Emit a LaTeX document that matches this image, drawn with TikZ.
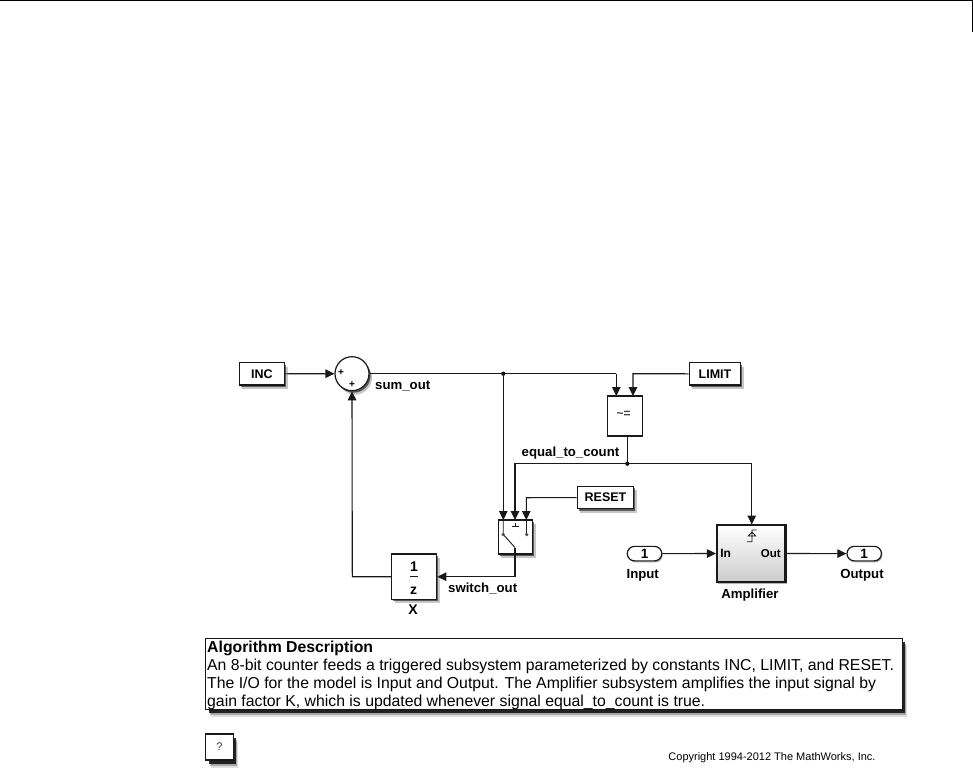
\documentclass[tikz,border=0pt]{standalone}
\usepackage{fontspec}
\setmainfont{Liberation Sans}
\usetikzlibrary{arrows.meta,shadows,shapes.misc}
\definecolor{wire}{gray}{0.1}
\tikzset{
  x=1pt,y=-1pt,
  every node/.style={font=\fontsize{13.2}{15}\selectfont\bfseries,text=black},
  softshadow/.style={drop shadow={shadow xshift=3pt,shadow yshift=-4pt,opacity=.22,fill=black},
    drop shadow={shadow xshift=1.6pt,shadow yshift=-2pt,opacity=.55,fill=black}},
  blockbox/.style={draw=black!90,line width=1.2pt,fill=white,inner sep=0pt,softshadow},
  plainbox/.style={draw=black!90,line width=1.2pt,fill=white,inner sep=0pt},
  wireline/.style={draw=wire,line width=1.1pt},
  sig/.style={wireline,-{Triangle[length=9pt,width=8.5pt]}},
  lbl/.style={inner sep=0pt,anchor=center},
  dotj/.style={circle,fill=black,inner sep=0pt,minimum size=4.2pt},
  gate/.style={font=\fontsize{12.5}{14}\selectfont\bfseries},
  pill/.style={rounded rectangle,plainbox,drop shadow={shadow xshift=1pt,shadow yshift=-1.5pt,opacity=.35,fill=black},minimum width=34.5pt,minimum height=14.5pt,font=\fontsize{13.5}{14}\selectfont\bfseries},
  notebox/.style={draw=black!90,line width=1.2pt,fill=white,inner sep=0pt,
    drop shadow={shadow xshift=5pt,shadow yshift=-8pt,opacity=.12,fill=black},
    drop shadow={shadow xshift=4pt,shadow yshift=-6pt,opacity=.25,fill=black},
    drop shadow={shadow xshift=3pt,shadow yshift=-3.5pt,opacity=.8,fill=black}},
}
\begin{document}
\begin{tikzpicture}
\useasboundingbox (0,0) rectangle (973,779);
\fill[white] (0,0) rectangle (973,779);
% page rule
\coordinate (ruleA) at (0,0.6);
\coordinate (ruleB) at (972.5,0.6);
\coordinate (ruleC) at (972.5,32);
\draw[black,line width=1pt] (ruleA) -- (ruleB) -- (ruleC);
% blocks
\node[blockbox,gate,minimum width=45.5pt,minimum height=22.5pt] (inc) at (262,373.8) {INC};
\node[circle,blockbox,minimum size=34pt] (sum) at (352,373.7) {};
\node[blockbox,gate,minimum width=51.5pt,minimum height=22.5pt] (limit) at (715,373.8) {LIMIT};
\node[plainbox,minimum width=35.5pt,minimum height=40pt] (cmp) at (625,416) {};
\node[font=\fontsize{12}{12}\selectfont\bfseries,text=black!75,lbl] (cmptxt) at (623.5,414) {\textasciitilde=};
\node[blockbox,gate,minimum width=56.5pt,minimum height=22.5pt] (reset) at (605.5,497.6) {RESET};
\node[blockbox,minimum width=34.5pt,minimum height=34pt] (sw) at (515.5,537) {};
\node[blockbox,minimum width=45pt,minimum height=45.5pt] (unit) at (414.2,576.7) {};
\node[plainbox,line width=2.2pt,minimum width=68.5pt,minimum height=57pt,top color=white,bottom color=black!20,drop shadow={shadow xshift=1pt,shadow yshift=-1.5pt,opacity=.3,fill=black}] (amp) at (751.3,553.5) {};
\node[pill] (inp) at (644.5,553.6) {1};
\node[pill] (outp) at (864.2,553.6) {1};
% sum signs
\node[lbl,font=\fontsize{10}{10}\selectfont\bfseries] (p1) at (341,372.7) {+};
\node[lbl,font=\fontsize{10}{10}\selectfont\bfseries] (p2) at (352,384.7) {+};
% unit delay content
\node[lbl,font=\fontsize{14}{15}\selectfont\bfseries] (one) at (414,566.7) {1};
\coordinate (barL) at (410,576.4);
\coordinate (barR) at (418,576.4);
\draw[wireline] (barL) -- (barR);
\node[lbl,font=\fontsize{14}{15}\selectfont\bfseries] (zed) at (413.5,590.7) {z};
% switch glyphs
\coordinate (swA) at (503.2,534.5);
\coordinate (swB) at (515,547.5);
\coordinate (swC) at (526.7,534.5);
\coordinate (swD) at (503.2,520);
\coordinate (swE) at (526.7,520);
\coordinate (swF) at (515,523);
\coordinate (swG) at (515,526.8);
\coordinate (swH) at (511.5,526.8);
\coordinate (swI) at (519,526.8);
\draw[wireline,line width=.9pt] (swD) -- (swA) -- (swB);
\draw[wireline,line width=.9pt] (swE) -- (swC);
\draw[wireline,line width=.9pt] (swF) -- (swG) (swH) -- (swI);
\node[circle,fill=black!70,inner sep=0pt,minimum size=3.6pt] (swdA) at (swA) {};
\node[circle,fill=black!70,inner sep=0pt,minimum size=3.6pt] (swdC) at (swC) {};
% amplifier content
\node[lbl,font=\fontsize{12}{13}\selectfont\bfseries] (ampin) at (725.7,553.5) {In};
\node[lbl,font=\fontsize{11.5}{13}\selectfont\bfseries] (ampout) at (770.7,553.5) {Out};
\coordinate (tgA) at (747,541.7);
\coordinate (tgB) at (752,541.7);
\coordinate (tgC) at (752,530);
\coordinate (tgD) at (756.7,530);
\coordinate (tgE) at (748.3,536);
\coordinate (tgF) at (752,532);
\coordinate (tgG) at (755.7,536);
\draw[wireline,line width=.8pt] (tgA) -- (tgB) -- (tgC) -- (tgD) (tgE) -- (tgF) -- (tgG) -- cycle;
% labels
\node[lbl,anchor=west] (lsum) at (375,385.5) {sum\_out};
\node[lbl,anchor=west] (lsw) at (448,588.5) {switch\_out};
\node[lbl,font=\fontsize{14}{15}\selectfont\bfseries] (lx) at (413,610) {X};
\node[lbl,anchor=west] (leq) at (521.5,453.5) {equal\_to\_count};
\node[lbl] (lin) at (642.7,575) {Input};
\node[lbl] (lout) at (862,575) {Output};
\node[lbl] (lamp) at (750,595) {Amplifier};
% junctions
\coordinate (j1) at (503.3,373.7);
\coordinate (j2) at (627.3,463.7);
\node[dotj] (dj1) at (j1) {};
\node[dotj] (dj2) at (j2) {};
\coordinate (c1) at (616.3,373.7);
\coordinate (c2) at (633,373.7);
\coordinate (c3) at (515,463.7);
\coordinate (c4) at (526.3,497.7);
\coordinate (c5) at (751.7,463.7);
\coordinate (c6) at (515,576.7);
\coordinate (c7) at (352.3,576.7);
\coordinate (t1) at (616.3,396);
\coordinate (t2) at (633,396);
\coordinate (t3) at (503.3,520);
\coordinate (t4) at (515,520);
\coordinate (t5) at (526.3,520);
\coordinate (t6) at (751.7,524.5);
\coordinate (t7) at (627.3,436);
% wires
\draw[sig] (inc.east) -- (sum.west);
\draw[wireline] (sum.east) -- (j1) -- (c1);
\draw[sig] (c1) -- (t1);
\draw[sig] (limit.west) -- (c2) -- (t2);
\draw[wireline] (t7) -- (j2);
\draw[sig] (j2) -- (c3) -- (t4);
\draw[sig] (j2) -- (c5) -- (t6);
\draw[sig] (j1) -- (t3);
\draw[sig] (reset.west) -- (c4) -- (t5);
\draw[sig] (swB) -- (c6) -- (unit.east);
\draw[sig] (unit.west) -- (c7) -- (sum.south);
\draw[sig] (inp.east) -- (amp.west);
\draw[sig] (amp.east) -- (outp.west);
% annotation
\node[notebox,minimum width=696.5pt,minimum height=71pt] (note) at (554,673.8) {};
\node[lbl,anchor=north west,align=left,font=\fontsize{15.8}{18}\selectfont,text=black] (notetxt) at (207,641) {\textbf{Algorithm Description}\\An 8-bit counter feeds a triggered subsystem parameterized by constants INC, LIMIT, and RESET.\\The I/O for the model is Input and Output. The Amplifier subsystem amplifies the input signal by\\gain factor K, which is updated whenever signal equal\_to\_count is true.};
\node[notebox,minimum width=27.5pt,minimum height=26pt,font=\fontsize{11}{12}\selectfont,text=black!80] (help) at (219.5,747) {?};
\node[lbl,anchor=east,font=\fontsize{11}{12}\selectfont,text=black] (copy) at (875.7,757.3) {Copyright 1994-2012 The MathWorks, Inc.};
\end{tikzpicture}
\end{document}
